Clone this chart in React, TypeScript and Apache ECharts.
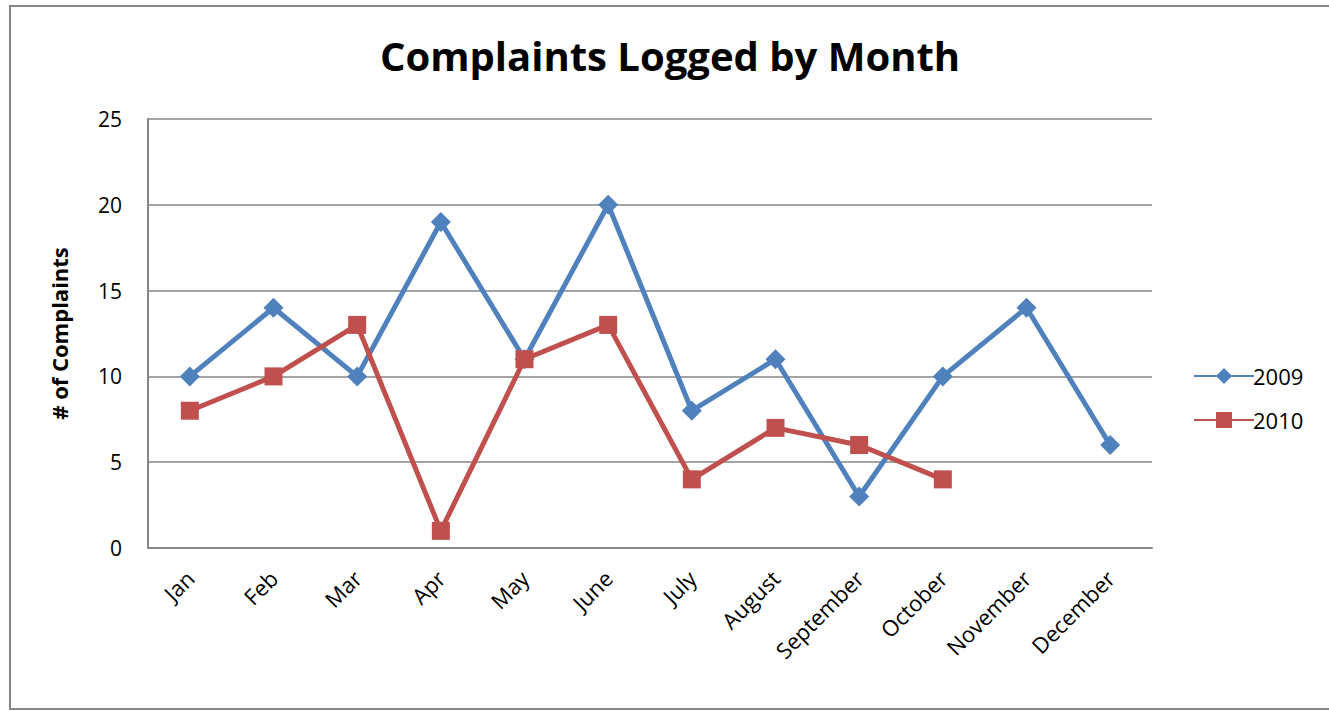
import React, { useEffect, useRef } from "react";
import * as echarts from "echarts";

const months = ["Jan", "Feb", "Mar", "Apr", "May", "June", "July", "August", "September", "October", "November", "December"];
const series2009 = [10, 14, 10, 19, 11, 20, 8, 11, 3, 10, 14, 6];
const series2010 = [8, 10, 13, 1, 11, 13, 4, 7, 6, 4, null, null];
const yTicks = [0, 5, 10, 15, 20, 25];

const FONT = "Open Sans";

export default function App() {
  const ref = useRef<HTMLDivElement>(null);
  useEffect(() => {
    if (!ref.current) return;
    const chart = echarts.init(ref.current, undefined, { renderer: "svg" });
    chart.setOption({
      animation: false,
      backgroundColor: "#ffffff",
      textStyle: { fontFamily: FONT },
      title: {
        text: "Complaints Logged by Month",
        left: 375,
        top: 30,
        textStyle: { fontFamily: FONT, fontWeight: "bold", fontSize: 40, color: "#000" },
      },
      graphic: [
        {
          type: "rect",
          shape: { x: 10, y: 6, width: 1330, height: 703 },
          style: { fill: "none", stroke: "#868686", lineWidth: 2 },
          silent: true,
        },
      ],
      legend: {
        orient: "vertical",
        left: 1188,
        top: 360,
        itemWidth: 60,
        itemHeight: 20,
        itemGap: 22,
        textStyle: { fontFamily: FONT, fontSize: 22, color: "#000", padding: [0, 0, 0, -6] },
        data: ["2009", "2010"],
      },
      grid: { left: 148, right: 177, top: 119, bottom: 163 },
      xAxis: {
        type: "category",
        data: months,
        boundaryGap: true,
        axisLine: { lineStyle: { color: "#868686", width: 2 } },
        axisTick: { show: false },
        axisLabel: { rotate: 45, fontFamily: FONT, fontSize: 22, color: "#000", margin: 26, interval: 0 },
      },
      yAxis: {
        type: "value",
        min: yTicks[0],
        max: yTicks[yTicks.length - 1],
        interval: 5,
        name: "# of Complaints",
        nameLocation: "middle",
        nameGap: 78,
        nameTextStyle: { fontFamily: FONT, fontWeight: "bold", fontSize: 22, color: "#000" },
        axisLine: { show: true, lineStyle: { color: "#868686", width: 2 } },
        axisTick: { show: false },
        axisLabel: { fontFamily: FONT, fontSize: 21, color: "#000", margin: 26 },
        splitLine: { lineStyle: { color: "#868686", width: 1.5 } },
      },
      series: [
        {
          name: "2009",
          type: "line",
          data: series2009,
          color: "#4F81BD",
          lineStyle: { width: 5, color: "#4F81BD" },
          symbol: "diamond",
          symbolSize: 20,
          itemStyle: { color: "#4F81BD" },
        },
        {
          name: "2010",
          type: "line",
          data: series2010,
          color: "#C0504D",
          lineStyle: { width: 5, color: "#C0504D" },
          symbol: "rect",
          symbolSize: 18,
          itemStyle: { color: "#C0504D" },
        },
      ],
    });
    return () => chart.dispose();
  }, []);
  return <div ref={ref} style={{ position: "fixed", left: 0, top: 0, width: 1329, height: 711 }} />;
}
